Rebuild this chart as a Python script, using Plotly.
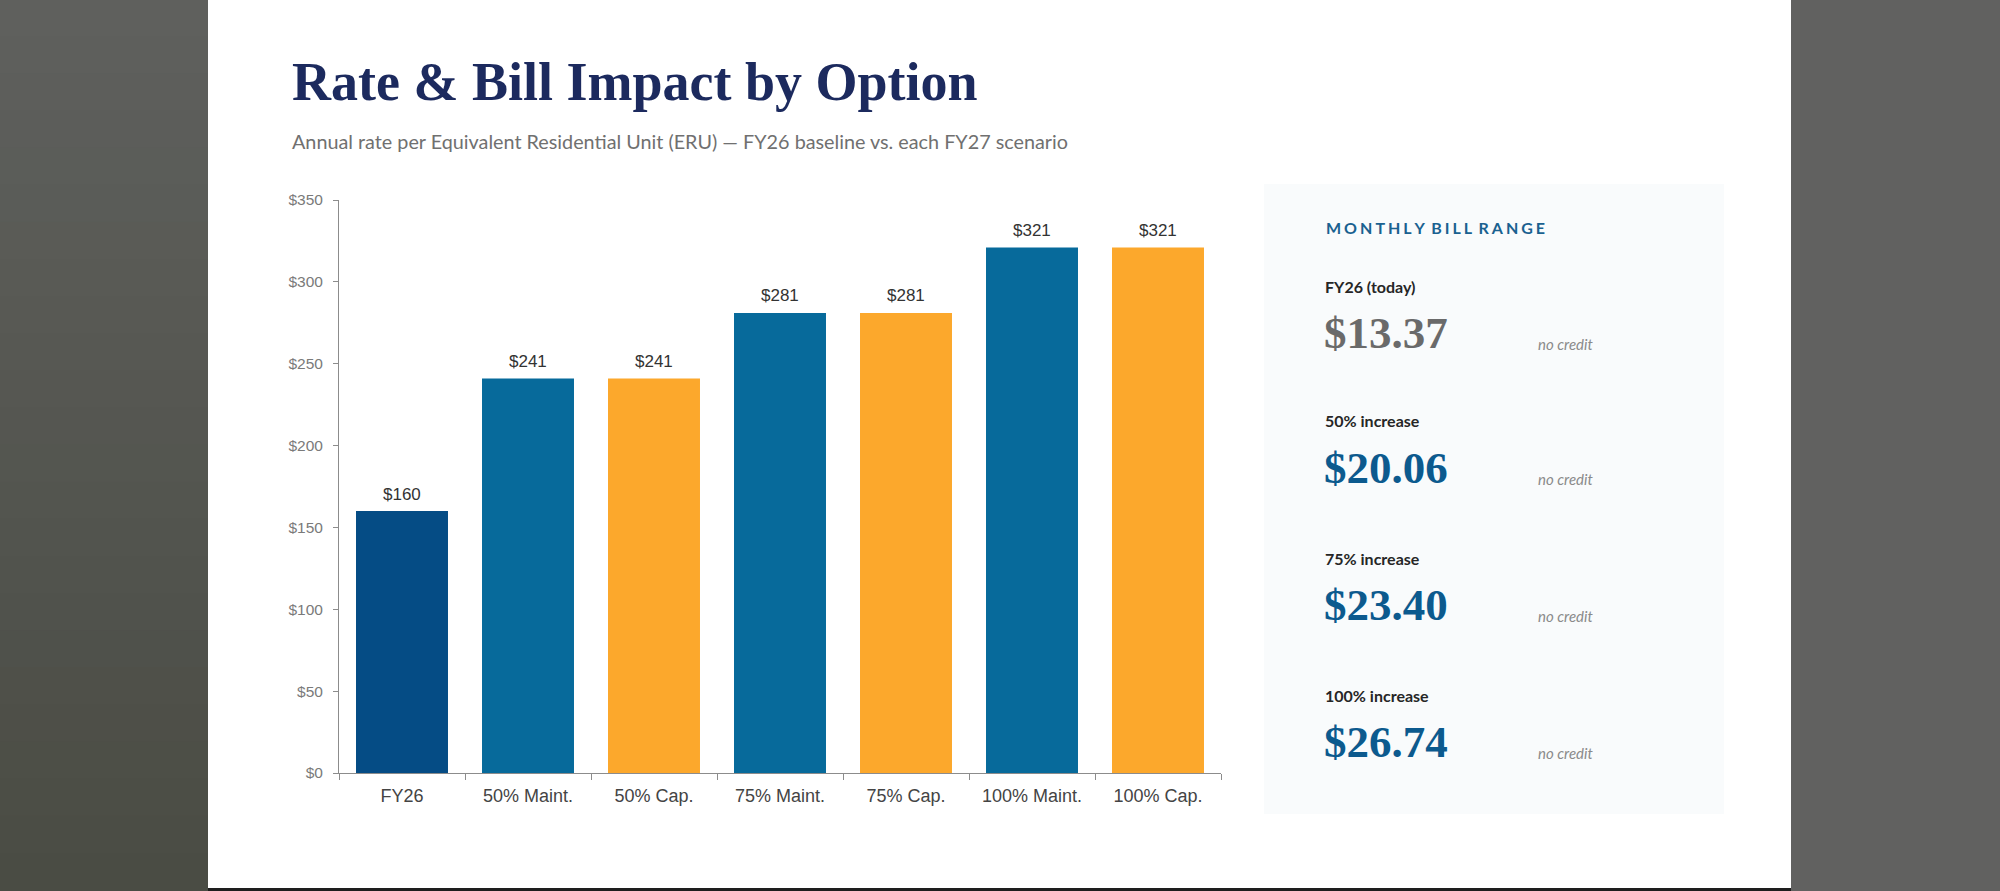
import plotly.graph_objects as go

# ---------------- data ----------------
categories = ["FY26", "50% Maint.", "50% Cap.", "75% Maint.", "75% Cap.", "100% Maint.", "100% Cap."]
annual_rate = [160, 241, 241, 281, 281, 321, 321]
y_ticks = [0, 50, 100, 150, 200, 250, 300, 350]

bill_labels = ["FY26 (today)", "50% increase", "75% increase", "100% increase"]
bill_values = [13.37, 20.06, 23.40, 26.74]
bill_notes = ["no credit", "no credit", "no credit", "no credit"]

title_text = "Rate & Bill Impact by Option"
subtitle_text = "Annual rate per Equivalent Residential Unit (ERU) \u2014 FY26 baseline vs. each FY27 scenario"
panel_title = "MONTHLY BILL RANGE"

# ---------------- styles ----------------
W, H = 2000, 891
bar_colors = ["#054c85", "#076a9b", "#fca82c", "#076a9b", "#fca82c", "#076a9b", "#fca82c"]
value_colors = ["#6a6a6a", "#0c5a8e", "#0c5a8e", "#0c5a8e"]


def px(x):
    return x / W


def py(y):
    return 1 - y / H


def spaced(s):
    gap = "\u2009\u200a"
    return (" " + gap).join(gap.join(w) for w in s.split(" "))


def mix(c1, c2, t):
    a = [int(c1[i:i + 2], 16) for i in (1, 3, 5)]
    b = [int(c2[i:i + 2], 16) for i in (1, 3, 5)]
    return "#" + "".join(f"{round(a[k] + (b[k] - a[k]) * t):02x}" for k in range(3))


fig = go.Figure()
fig.add_trace(go.Bar(
    x=categories,
    y=annual_rate,
    marker=dict(color=bar_colors, line=dict(width=0)),
    width=0.73,
    hoverinfo="skip",
))

shapes = []
# grey surround (soft vertical gradient on the left)
n_bands = 24
for k in range(n_bands):
    shapes.append(dict(type="rect", xref="paper", yref="paper", x0=0, x1=px(208),
                       y0=1 - (k + 1) / n_bands, y1=1 - k / n_bands + 0.001,
                       fillcolor=mix("#5f605d", "#4a4c44", k / (n_bands - 1)),
                       line=dict(width=0), layer="below"))
shapes += [
    dict(type="rect", xref="paper", yref="paper", x0=px(1791), x1=1, y0=0, y1=1,
         fillcolor="#616160", line=dict(width=0), layer="below"),
    dict(type="rect", xref="paper", yref="paper", x0=px(208), x1=px(1791), y0=0, y1=py(888),
         fillcolor="#1e1e1e", line=dict(width=0), layer="below"),
    # side panel
    dict(type="rect", xref="paper", yref="paper", x0=px(1264), x1=px(1724), y0=py(814), y1=py(184),
         fillcolor="#f9fbfc", line=dict(width=0), layer="below"),
]

annotations = [
    dict(text=f"<b>{title_text}</b>", x=px(290), y=py(82), xref="paper", yref="paper",
         xanchor="left", yanchor="middle", showarrow=False,
         font=dict(family="Liberation Serif, Times New Roman", size=54, color="#1c2a5e")),
    dict(text=subtitle_text, x=px(290), y=py(141), xref="paper", yref="paper",
         xanchor="left", yanchor="middle", showarrow=False,
         font=dict(family="Lato, Open Sans", size=19.8, color="#707070")),
    dict(text="<b>" + spaced(panel_title) + "</b>",
         x=px(1324), y=py(228), xref="paper", yref="paper",
         xanchor="left", yanchor="middle", showarrow=False,
         font=dict(family="Lato, Open Sans", size=16, color="#1a6190")),
]

# value labels above the bars, placed through the axes
for cat, val in zip(categories, annual_rate):
    annotations.append(dict(text=f"${val}", x=cat, y=val, xref="x", yref="y",
                            xanchor="center", yanchor="middle", yshift=17, showarrow=False,
                            font=dict(family="Liberation Sans, Arial", size=17, color="#333333")))

row_y = [286, 421, 558, 695]
for i, (lab, val, note) in enumerate(zip(bill_labels, bill_values, bill_notes)):
    y0 = row_y[i]
    annotations.append(dict(text=f"<b>{lab}</b>", x=px(1323), y=py(y0), xref="paper", yref="paper",
                            xanchor="left", yanchor="middle", showarrow=False,
                            font=dict(family="Lato, Open Sans", size=16, color="#262626")))
    annotations.append(dict(text=f"<b>${val:.2f}</b>", x=px(1322), y=py(y0 + 47), xref="paper", yref="paper",
                            xanchor="left", yanchor="middle", showarrow=False,
                            font=dict(family="Liberation Serif, Times New Roman", size=45, color=value_colors[i])))
    annotations.append(dict(text=f"<i>{note}</i>", x=px(1536), y=py(y0 + 58), xref="paper", yref="paper",
                            xanchor="left", yanchor="middle", showarrow=False,
                            font=dict(family="Lato, Open Sans", size=15, color="#8a8a8a")))

fig.update_layout(
    width=W, height=H,
    margin=dict(l=0, r=0, t=0, b=0, autoexpand=False),
    paper_bgcolor="#ffffff",
    plot_bgcolor="rgba(0,0,0,0)",
    showlegend=False,
    shapes=shapes,
    annotations=annotations,
    xaxis=dict(
        domain=[px(339), px(1221)],
        range=[-0.5, 6.5],
        automargin=False,
        showline=True, linecolor="#8c8c8c", linewidth=1,
        ticks="outside", tickson="boundaries", ticklen=6, tickcolor="#8c8c8c",
        ticklabelstandoff=6,
        tickfont=dict(family="Liberation Sans, Arial", size=18, color="#444444"),
        showgrid=False, zeroline=False, fixedrange=True,
    ),
    yaxis=dict(
        domain=[py(773), py(200)],
        range=[0, 350],
        automargin=False,
        tickvals=y_ticks,
        ticktext=[f"${v}" for v in y_ticks],
        showline=True, linecolor="#8c8c8c", linewidth=1,
        ticks="outside", ticklen=5, tickcolor="#8c8c8c",
        ticklabelstandoff=7,
        tickfont=dict(family="Liberation Sans, Arial", size=15.5, color="#7a7a7a"),
        showgrid=False, zeroline=False, fixedrange=True,
    ),
)

fig.write_html("out.html", config={"displayModeBar": False})
